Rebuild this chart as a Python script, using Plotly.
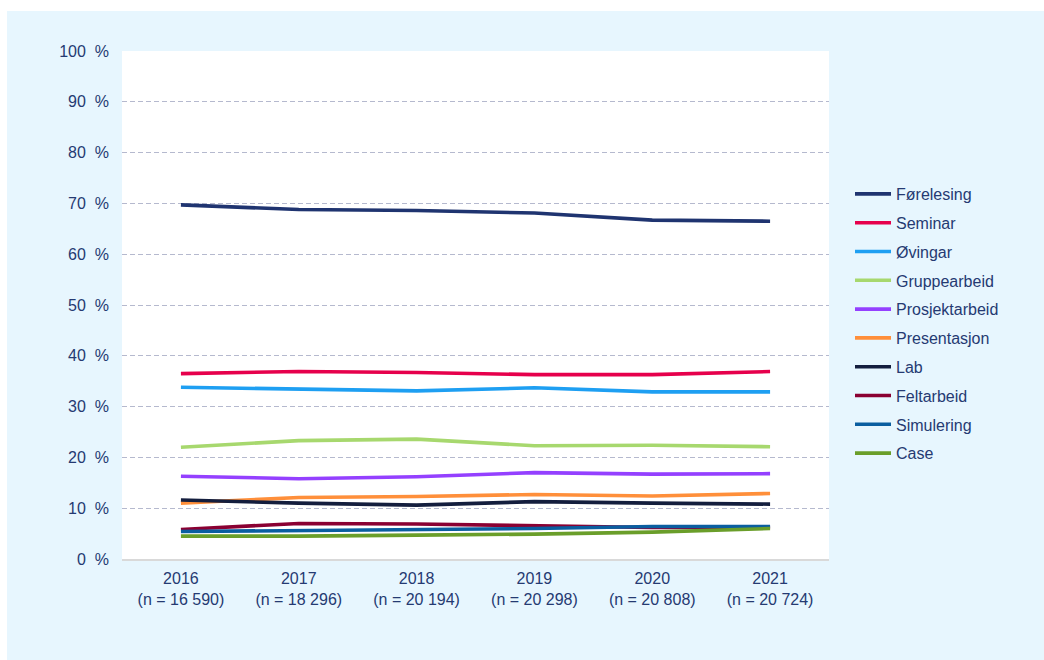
import plotly.graph_objects as go

years = ["2016", "2017", "2018", "2019", "2020", "2021"]
n_values = ["16 590", "18 296", "20 194", "20 298", "20 808", "20 724"]
tick_labels = [f"{y}<br>(n = {n})" for y, n in zip(years, n_values)]

forelesing = [69.7, 68.8, 68.6, 68.1, 66.7, 66.5]
seminar = [36.5, 36.9, 36.7, 36.3, 36.3, 36.9]
ovingar = [33.8, 33.5, 33.1, 33.7, 32.9, 32.9]
gruppearbeid = [22.0, 23.3, 23.6, 22.3, 22.4, 22.1]
prosjektarbeid = [16.3, 15.8, 16.2, 17.0, 16.7, 16.8]
presentasjon = [11.0, 12.1, 12.3, 12.7, 12.4, 12.9]
lab = [11.6, 11.0, 10.6, 11.3, 11.0, 10.8]
feltarbeid = [5.8, 7.0, 6.9, 6.6, 6.2, 6.2]
simulering = [5.4, 5.6, 5.8, 6.0, 6.4, 6.4]
case = [4.5, 4.5, 4.7, 4.9, 5.3, 6.0]

series = [
    ("Førelesing", forelesing, "#1F3470"),
    ("Seminar", seminar, "#E6004C"),
    ("Øvingar", ovingar, "#1E9FF2"),
    ("Gruppearbeid", gruppearbeid, "#A7D86E"),
    ("Prosjektarbeid", prosjektarbeid, "#9440FF"),
    ("Presentasjon", presentasjon, "#FF8F3A"),
    ("Lab", lab, "#141E3E"),
    ("Feltarbeid", feltarbeid, "#8A0032"),
    ("Simulering", simulering, "#0A5EA0"),
    ("Case", case, "#6A9E2A"),
]

y_ticks = list(range(0, 101, 10))
y_tick_text = [f"{v}\u00a0\u00a0%" for v in y_ticks]

TEXT = "#253A72"
BG = "#E7F6FE"
FONT = "Liberation Sans, Arial, sans-serif"

fig = go.Figure()
for name, vals, color in series:
    fig.add_trace(go.Scatter(
        x=years, y=vals, name=name, mode="lines",
        line=dict(color=color, width=3.6),
        legendgroup=name,
    ))

W, H = 1044, 660
L, R, T, B = 122, 1044 - 829, 51, 660 - 559

def px_x(p):
    return (p - L) / (W - L - R)

def px_y(p):
    return (H - B - p) / (H - T - B)

fig.update_layout(
    width=W, height=H,
    margin=dict(l=L, r=R, t=T, b=B),
    paper_bgcolor=BG,
    plot_bgcolor="white",
    font=dict(family=FONT, color=TEXT, size=16),
    showlegend=True,
    legend=dict(
        x=px_x(850), xanchor="left",
        y=px_y(177), yanchor="top",
        bgcolor="rgba(0,0,0,0)",
        font=dict(size=16, color=TEXT, family=FONT),
        tracegroupgap=5,
        itemwidth=36,
    ),
    xaxis=dict(
        type="category",
        tickmode="array", tickvals=years, ticktext=tick_labels,
        range=[-0.5, 5.5],
        showgrid=False, zeroline=False,
        showline=True, linecolor="#D9D9D9", linewidth=1.5,
        ticks="", tickfont=dict(size=16, color=TEXT, family=FONT),
        ticklabelstandoff=4,
    ),
    yaxis=dict(
        range=[0, 100],
        tickmode="array", tickvals=y_ticks, ticktext=y_tick_text,
        showgrid=True, gridcolor="#B5B9CE", gridwidth=1, griddash="5px,3px",
        zeroline=False, showline=False, ticks="",
        tickfont=dict(size=16, color=TEXT, family=FONT),
        ticklabelstandoff=12,
    ),
    shapes=[
        dict(type="rect", xref="paper", yref="paper", layer="above",
             x0=px_x(-5), x1=px_x(7), y0=px_y(665), y1=px_y(-5),
             fillcolor="white", line=dict(width=0)),
        dict(type="rect", xref="paper", yref="paper", layer="above",
             x0=px_x(-5), x1=px_x(1050), y0=px_y(11), y1=px_y(-5),
             fillcolor="white", line=dict(width=0)),
    ],
)

fig.write_html("out.html")
